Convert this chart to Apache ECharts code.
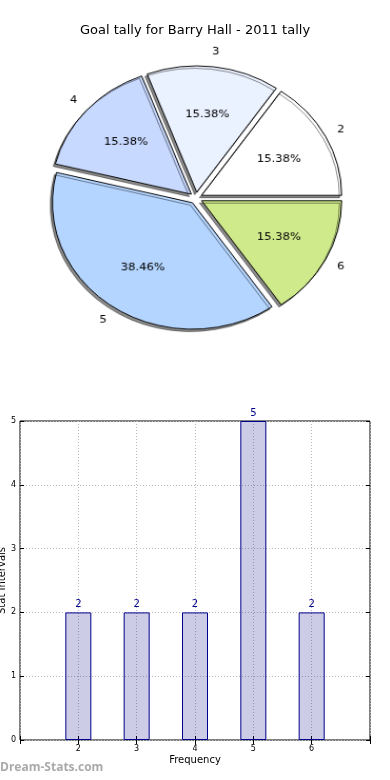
<!DOCTYPE html>
<html><head><meta charset="utf-8">
<script src="https://cdn.jsdelivr.net/npm/echarts@6/dist/echarts.min.js"></script>
<style>
html,body{margin:0;padding:0;background:#fff}
#wrap{position:relative;width:390px;height:780px}
#c{position:absolute;left:0;top:0;width:390px;height:780px}
#p{position:absolute;left:0;top:0;width:390px;height:400px;transform-origin:196px 198px;transform:scale(1.053,0.951)}
</style>
</head><body><div id="wrap"><div id="c"></div><div id="p"></div></div>
<script>
var categories = ['2', '3', '4', '5', '6'];
var counts = [2, 2, 2, 5, 2];
var pieColors = ['#ffffff', '#ebf2ff', '#c8d9ff', '#b4d5ff', '#cfea8b'];
var titleText = 'Goal tally for Barry Hall - 2011 tally';

var R = 133, CX = 196, CY = 198, OFF = 6;
var F = 'DejaVu Sans';
var total = counts.reduce(function (a, b) { return a + b; }, 0);

function pieData(withColor) {
  return categories.map(function (c, i) {
    var d = { name: c, value: counts[i], selected: true };
    d.itemStyle = withColor ? { color: pieColors[i] } : { color: 'rgba(0,0,0,0)' };
    return d;
  });
}

var chart = echarts.init(document.getElementById('c'));
chart.setOption({
  animation: false,
  backgroundColor: '#fff',
  title: { text: titleText, left: 'center', top: 19, textStyle: { fontFamily: F, fontSize: 13, fontWeight: 'normal', color: '#000' } },
  graphic: [{ type: 'text', left: 0, top: 762, style: { text: 'Dream-Stats.com', fill: '#aaa', font: 'bold 12px "Open Sans"' } }],
  grid: { left: 20, right: 20, top: 421, bottom: 40, containLabel: false, outerBoundsMode: 'none', show: true, borderColor: '#000', borderWidth: 1, backgroundColor: 'transparent' },
  xAxis: [{
    type: 'value', min: 1, max: 7, interval: 1, position: 'bottom',
    name: 'Frequency', nameLocation: 'middle', nameGap: 15, nameMoveOverlap: false,
    nameTextStyle: { fontFamily: F, fontSize: 10, color: '#000' },
    axisLine: { show: false },
    axisTick: { inside: true, length: 4, lineStyle: { color: '#000' } },
    axisLabel: { fontFamily: F, fontSize: 8, color: '#000', margin: 5, formatter: function (v) { return (v === 1 || v === 7) ? '' : String(v); } },
    splitLine: { show: true, lineStyle: { color: '#bbb', type: [1, 2], width: 1 } }
  }, {
    type: 'value', min: 1, max: 7, interval: 1, position: 'top',
    axisLine: { show: false }, axisLabel: { show: false }, splitLine: { show: false },
    axisTick: { inside: true, length: 4, lineStyle: { color: '#000' } }
  }],
  yAxis: [{
    type: 'value', min: 0, max: 5, interval: 1, position: 'left',
    name: 'Stat Intervals', nameLocation: 'middle', nameGap: 13, nameMoveOverlap: false,
    nameTextStyle: { fontFamily: F, fontSize: 10, color: '#000' },
    axisLine: { show: false },
    axisTick: { inside: true, length: 4, lineStyle: { color: '#000' } },
    axisLabel: { fontFamily: F, fontSize: 8, color: '#000', margin: 4 },
    splitLine: { show: true, lineStyle: { color: '#bbb', type: [1, 2], width: 1 } }
  }, {
    type: 'value', min: 0, max: 5, interval: 1, position: 'right',
    axisLine: { show: false }, axisLabel: { show: false }, splitLine: { show: false },
    axisTick: { inside: true, length: 4, lineStyle: { color: '#000' } }
  }],
  series: [{
    type: 'bar', xAxisIndex: 0, yAxisIndex: 0, barWidth: 26,
    data: categories.map(function (c, i) { return [Number(c), counts[i]]; }),
    itemStyle: { color: 'rgba(0,0,128,0.2)', borderColor: '#00008b', borderWidth: 1 },
    label: { show: true, position: 'top', distance: 3, fontFamily: F, fontSize: 10, color: '#00008b' }
  }]
});

var pie = echarts.init(document.getElementById('p'));
pie.setOption({
  animation: false,
  series: [{
    type: 'pie', radius: R, center: [CX, CY], startAngle: 0, clockwise: false,
    selectedMode: 'multiple', selectedOffset: OFF, silent: true,
    label: { show: false }, labelLine: { show: false },
    itemStyle: { borderColor: '#000', borderWidth: 1, shadowColor: 'rgba(0,0,0,0.45)', shadowBlur: 0.5, shadowOffsetX: -2, shadowOffsetY: 2.5 },
    data: pieData(true)
  }, {
    type: 'pie', radius: [0, 2 * 0.6 * R], center: [CX, CY], startAngle: 0, clockwise: false,
    selectedMode: 'multiple', selectedOffset: OFF, silent: true,
    label: { show: true, position: 'inside', formatter: function (p) { return (p.value / total * 100).toFixed(2) + '%'; }, fontFamily: F, fontSize: 11, color: '#000' },
    labelLine: { show: false }, itemStyle: { borderWidth: 0 },
    data: pieData(false)
  }, {
    type: 'pie', radius: [0, 2 * 1.1 * R], center: [CX, CY], startAngle: 0, clockwise: false,
    selectedMode: 'multiple', selectedOffset: OFF, silent: true,
    label: { show: true, position: 'inside', formatter: '{b}', fontFamily: F, fontSize: 11, color: '#000' },
    labelLine: { show: false }, itemStyle: { borderWidth: 0 },
    data: pieData(false)
  }]
});
</script></body></html>
